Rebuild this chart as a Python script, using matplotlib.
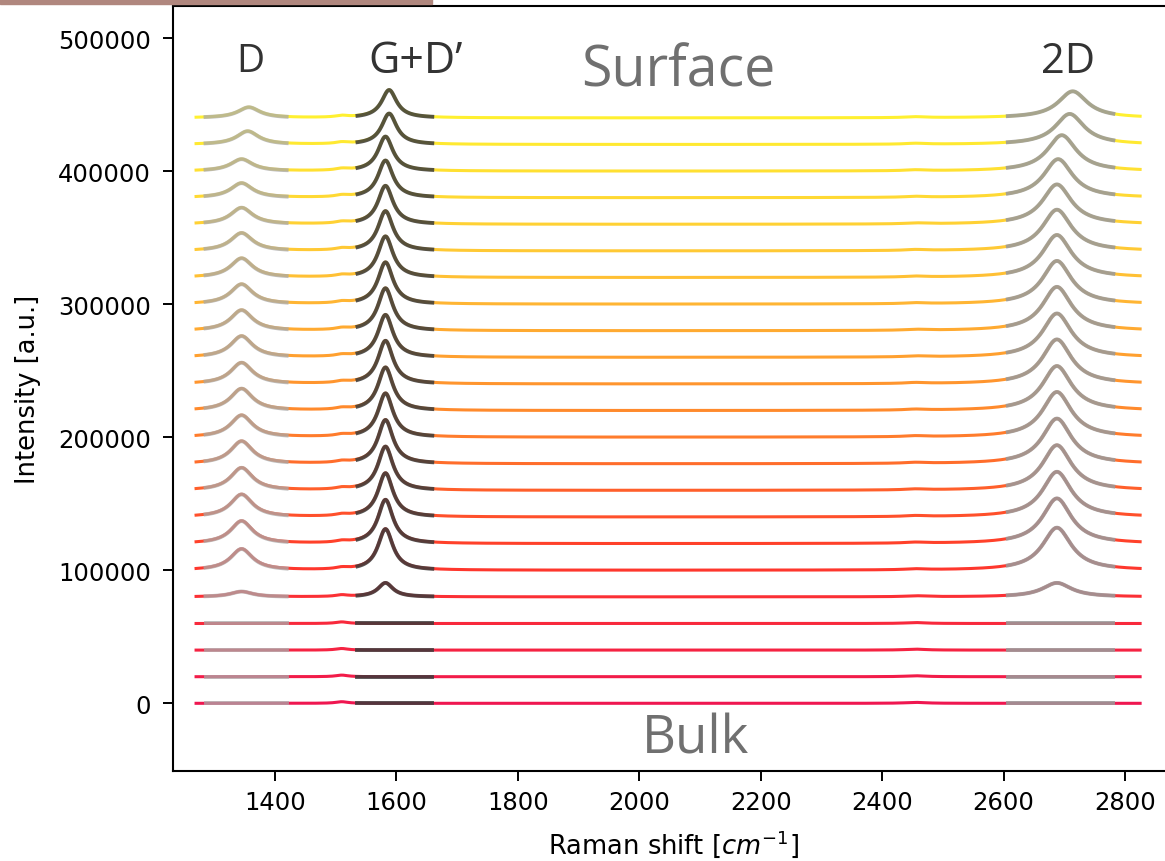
import numpy as np
import matplotlib.pyplot as plt
from matplotlib.colors import LinearSegmentedColormap

# Stacked Raman spectra, bulk (bottom) to surface (top)
OFFSET_STEP = 20000
N_ROWS = 23

# Peak amplitudes per spectrum, bottom -> top
d_amp = [0, 0, 0, 0, 4000, 16000, 17000, 17000, 17000, 17000, 16500, 16500,
         16000, 16000, 15500, 15000, 14500, 13500, 12500, 11000, 9000, 10000, 8000]
g_amp = [0, 0, 0, 0, 10500, 31000, 33000, 33000, 33000, 33000, 33000, 32500,
         32500, 32000, 32000, 31500, 31000, 30000, 29000, 28000, 26000, 23300, 21000]
twod_amp = [0, 0, 0, 0, 10500, 32000, 34000, 34000, 34000, 34000, 34000, 33500,
            33500, 33000, 33000, 32500, 32000, 31000, 30000, 29000, 27000, 23000, 20000]

# Peak centres per spectrum, bottom -> top
d_pos = [1345] * 21 + [1355, 1357]
g_pos = [1582] * 21 + [1588, 1588]
twod_pos = [2688] * 19 + [2690, 2696, 2709, 2714]

# Peak half widths
d_hw, g_hw, twod_hw = 22, 15, 29

# Fit windows
d_win = (1285, 1420)
g_win = (1535, 1660)
twod_win = (2607, 2781)

shift = np.linspace(1270, 2825, 1200)


def lorentz(x, amp, x0, hw):
    return amp * hw ** 2 / ((x - x0) ** 2 + hw ** 2)


cmap = LinearSegmentedColormap.from_list(
    'depth', ['#ef1650', '#ff3a2a', '#ff8a2c', '#ffc535', '#fff030'])

fig = plt.figure(figsize=(11.65, 8.62), dpi=100)
fig.patches.append(plt.Rectangle((0, 1 - 5 / 862), 432 / 1165, 5 / 862,
                                 transform=fig.transFigure, color='#b0877e',
                                 zorder=10))
ax = fig.add_axes([173 / 1165, 1 - 771.5 / 862, 1000.5 / 1165, 765 / 862])

for i in range(N_ROWS):
    off = i * OFFSET_STEP
    d = lorentz(shift, d_amp[i], d_pos[i], d_hw)
    g = lorentz(shift, g_amp[i], g_pos[i], g_hw)
    t = lorentz(shift, twod_amp[i], twod_pos[i], twod_hw)
    small = lorentz(shift, 1200, 1510, 12) + lorentz(shift, 700, 2455, 20)
    spec = d + g + t + small
    ax.plot(shift, spec + off, color=cmap(i / (N_ROWS - 1)), lw=2.2, zorder=2)

    # fitted peaks drawn over each window
    for (lo, hi), comp, col, a in [(d_win, d, '#a9a9a9', 0.75),
                                    (g_win, g, '#3a3a3a', 0.85),
                                    (twod_win, t, '#9a9a9a', 0.88)]:
        m = (shift >= lo) & (shift <= hi)
        ax.plot(shift[m], comp[m] + off, color=col, alpha=a, lw=2.8, zorder=3)

ax.set_xlim(1232, 2880)
ax.set_ylim(-50500, 524500)
ax.set_yticks([0, 100000, 200000, 300000, 400000, 500000])
ax.set_xticks(np.arange(1400, 2801, 200))
ax.tick_params(labelsize=17.5, length=7, width=1.4)
ax.tick_params(axis='y', pad=9)
ax.tick_params(axis='x', pad=7)
for s in ax.spines.values():
    s.set_linewidth(1.5)

ax.set_xlabel('Raman shift [$cm^{-1}$]', fontsize=18.5, labelpad=10)
ax.set_ylabel('Intensity [a.u.]', fontsize=18.5, labelpad=12)

ann = dict(family='Open Sans', ha='center', va='center')
ax.text(1359, 483000, 'D', fontsize=28, color='#333333', **ann)
ax.text(1632, 483000, 'G+D\u2019', fontsize=31, color='#333333', **ann)
ax.text(2706, 483000, '2D', fontsize=30, color='#333333', **ann)
ax.text(2064, 475000, 'Surface', fontsize=40, color='#707070', **ann)
ax.text(2092, -27000, 'Bulk', fontsize=38, color='#707070', **ann)

fig.savefig('out.png', dpi=100)
